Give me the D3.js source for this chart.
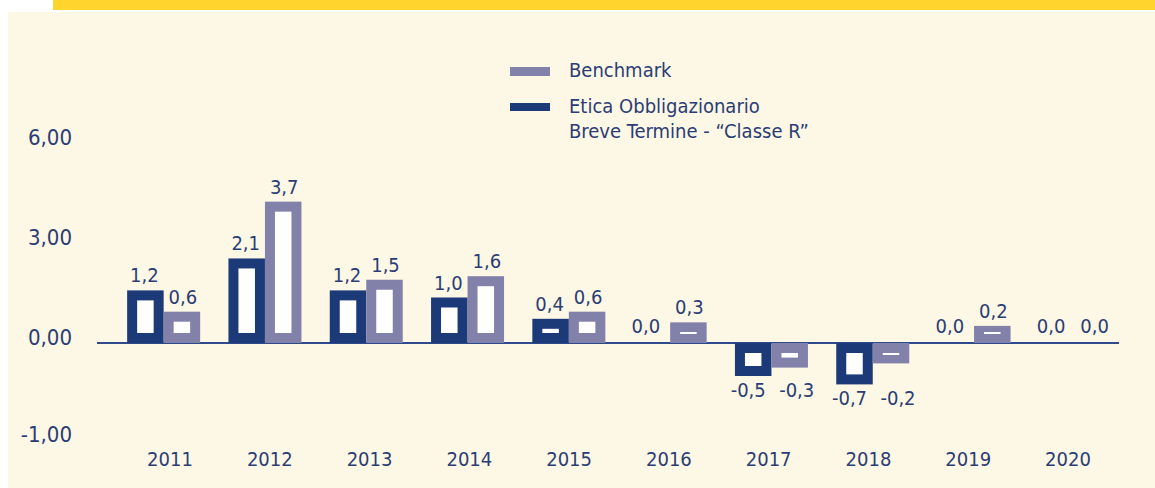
<!DOCTYPE html>
<html><head><meta charset="utf-8">
<script src="https://cdn.jsdelivr.net/npm/d3@7"></script>
<style>
html,body{margin:0;padding:0;background:#fff;}
svg text{font-family:"DejaVu Sans Condensed","Liberation Sans Narrow","DejaVu Sans",sans-serif;font-stretch:condensed;fill:#2b3d74;}
</style></head><body>
<svg id="c" width="1155" height="488"></svg>
<script>
const years = ["2011","2012","2013","2014","2015","2016","2017","2018","2019","2020"];
const etica = [1.2, 2.1, 1.2, 1.0, 0.4, 0.0, -0.5, -0.7, 0.0, 0.0];
const bench = [0.6, 3.7, 1.5, 1.6, 0.6, 0.3, -0.3, -0.2, 0.2, 0.0];
const yTicks = [6, 3, 0, -1];
const seriesNames = ["Benchmark", "Etica Obbligazionario", "Breve Termine - \u201CClasse R\u201D"];

const cBench = "#8281a9", cEtica = "#1c3a78";
const svg = d3.select("#c");
// background
svg.append("rect").attr("x",8).attr("y",12).attr("width",1147).attr("height",476).attr("fill","#fdf7e6");
svg.append("rect").attr("x",53).attr("y",0).attr("width",1102).attr("height",10).attr("fill","#fed42d");

const x = d3.scaleBand().domain(years).range([113,1126]);
const xLab = d3.scalePoint().domain(years).range([170,1068]);
const yAx = d3.scaleLinear().domain([-1,0,6]).range([434,337,137]);
const yBar = d3.scaleLinear().domain([-1,0,6]).range([385,343,130]);
const base = yBar(0);
const bw = 36.5, pad = 10;
const fmt = v => (v<0?"-":"") + Math.abs(v).toFixed(1).replace(".",",");

// y axis labels
const ga = svg.append("g").attr("transform","translate(72,0)")
  .call(d3.axisLeft(yAx).tickValues(yTicks).tickSize(0).tickPadding(0).tickFormat(d => (d<0?"-":"")+Math.abs(d).toFixed(2).replace(".",",")));
ga.select(".domain").remove();
ga.selectAll("text").attr("font-size",22).attr("font-family",null).attr("dy","0.35em");

// baseline
svg.append("line").attr("x1",97).attr("x2",1119).attr("y1",base).attr("y2",base).attr("stroke","#2e4a8c").attr("stroke-width",1.8);

// x labels
svg.append("g").selectAll("text").data(years).join("text")
  .attr("x", d => xLab(d)).attr("y", 466).attr("text-anchor","middle").attr("font-size",20).text(d => d);

const bars = [];
years.forEach((yr,i) => {
  const c = x(yr) + x.bandwidth()/2;
  const gmin = Math.min(etica[i], bench[i]);
  bars.push({v:etica[i], x0:c-bw, col:cEtica, gmin, dx: etica[i]<0?-5:(etica[i]===0?-6:-1)});
  bars.push({v:bench[i], x0:c, col:cBench, gmin, dx: bench[i]<0?7:1});
});

const gb = svg.append("g");
bars.filter(b => b.v !== 0).forEach(b => {
  const yv = yBar(b.v);
  if (b.v > 0) {
    const top = yv - pad;
    gb.append("rect").attr("x",b.x0).attr("y",top).attr("width",bw).attr("height",base-top).attr("fill",b.col);
    const ih = Math.max(base - pad - yv, 2);
    const iy = Math.min(yv, base - pad - 1);
    gb.append("rect").attr("x",b.x0+pad).attr("y",iy).attr("width",bw-2*pad).attr("height",ih).attr("fill","#fff");
  } else {
    const bot = yv + 12;
    gb.append("rect").attr("x",b.x0).attr("y",base).attr("width",bw).attr("height",bot-base).attr("fill",b.col);
    const ih = Math.max(yv + 2 - (base+pad), 2);
    gb.append("rect").attr("x",b.x0+pad).attr("y",base+pad).attr("width",bw-2*pad).attr("height",ih).attr("fill","#fff");
  }
});

// value labels
svg.append("g").selectAll("text").data(bars).join("text")
  .attr("x", b => b.x0 + bw/2 + b.dx)
  .attr("y", b => b.v > 0 ? yBar(b.v) - pad - 8 : (b.v === 0 ? base - 10 : yBar(b.gmin) + 12 + 21))
  .attr("text-anchor","middle").attr("font-size",20).text(b => fmt(b.v));

// legend
const lg = svg.append("g");
lg.append("rect").attr("x",510).attr("y",67).attr("width",40).attr("height",9).attr("fill",cBench);
lg.append("rect").attr("x",510).attr("y",103).attr("width",40).attr("height",8).attr("fill",cEtica);
lg.append("text").attr("x",569).attr("y",77).attr("font-size",20).text(seriesNames[0]);
lg.append("text").attr("x",569).attr("y",113).attr("font-size",20).text(seriesNames[1]);
lg.append("text").attr("x",569).attr("y",138).attr("font-size",20).text(seriesNames[2]);
</script></body></html>
